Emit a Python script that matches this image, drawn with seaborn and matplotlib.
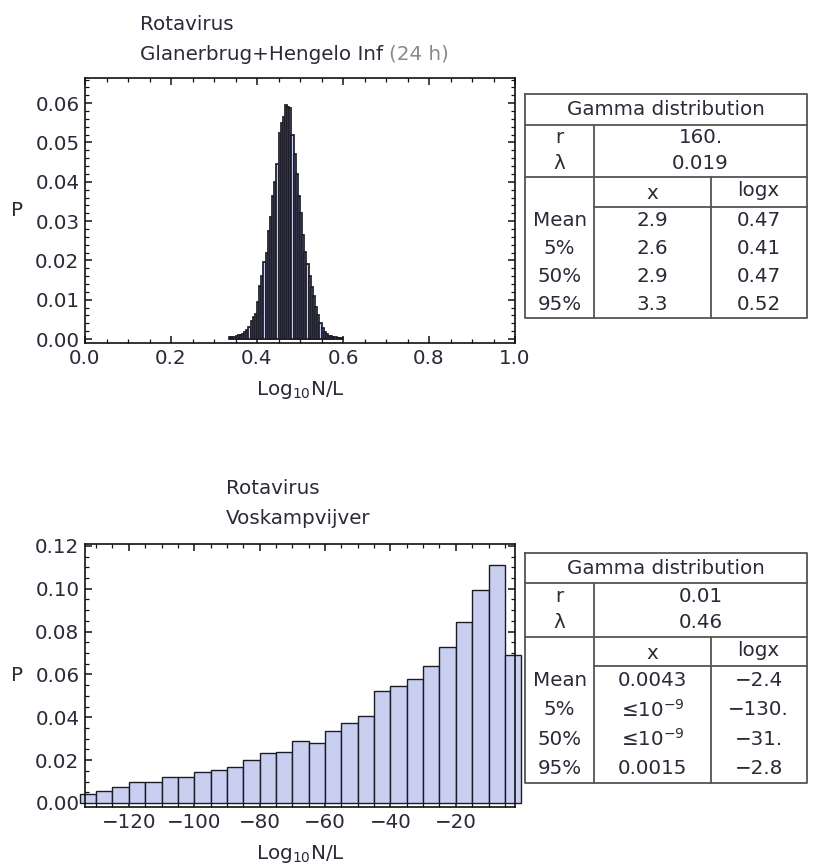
import numpy as np
import pandas as pd
import matplotlib
matplotlib.use("Agg")
import matplotlib.pyplot as plt
import seaborn as sns
from matplotlib.ticker import MultipleLocator, FuncFormatter

# ---------------- data ----------------
top_title = ["Rotavirus", "Glanerbrug+Hengelo Inf", "(24 h)"]
top_bin_start = 0.335
top_bin_width = 0.005
top_p = [0.0004, 0.0004, 0.0005, 0.0007, 0.0010, 0.0011, 0.0013, 0.0018, 0.0024, 0.0030,
         0.0045, 0.0055, 0.0065, 0.0095, 0.0135, 0.0160, 0.0195, 0.0218, 0.0275, 0.0310,
         0.0365, 0.0400, 0.0445, 0.0525, 0.0550, 0.0565, 0.0595, 0.0590, 0.0588, 0.0520,
         0.0470, 0.0420, 0.0365, 0.0320, 0.0265, 0.0222, 0.0190, 0.0160, 0.0132, 0.0110,
         0.0082, 0.0060, 0.0042, 0.0027, 0.0019, 0.0013, 0.0009, 0.0007, 0.0005, 0.0004,
         0.0003, 0.0002, 0.0002]
top_xticks = [0.0, 0.2, 0.4, 0.6, 0.8, 1.0]
top_yticks = [0.00, 0.01, 0.02, 0.03, 0.04, 0.05, 0.06]
top_params = ["160.", "0.019"]
top_rows = ["Mean", "5%", "50%", "95%"]
top_x = ["2.9", "2.6", "2.9", "3.3"]
top_logx = ["0.47", "0.41", "0.47", "0.52"]

bot_title = ["Rotavirus", "Voskampvijver"]
bot_bin_start = -135
bot_bin_width = 5
bot_p = [0.0041, 0.0057, 0.0073, 0.0097, 0.0097, 0.0119, 0.0119, 0.0144, 0.0152, 0.0168,
         0.0200, 0.0231, 0.0239, 0.0287, 0.0279, 0.0334, 0.0372, 0.0405, 0.0523, 0.0546,
         0.0580, 0.0641, 0.0728, 0.0847, 0.0994, 0.1113, 0.0689]
bot_xticks = [-120, -100, -80, -60, -40, -20]
bot_yticks = [0.00, 0.02, 0.04, 0.06, 0.08, 0.10, 0.12]
bot_params = ["0.01", "0.46"]
bot_rows = ["Mean", "5%", "50%", "95%"]
bot_x = ["0.0043", "≤10$^{-9}$", "≤10$^{-9}$", "0.0015"]
bot_logx = ["\u22122.4", "\u2212130.", "\u221231.", "\u22122.8"]

# ---------------- style ----------------
sns.set_style("ticks")
plt.rcParams["font.family"] = ["DejaVu Sans"]
plt.rcParams["mathtext.fontset"] = "dejavusans"
FS = 14.3
TXT = "#2e2838"
FILL = "#c9cff1"
EDGE = "#1c1c28"

W, H = 814, 866
fig = plt.figure(figsize=(W / 100, H / 100), dpi=100)


def rect(left, top, right, bottom):
    return [left / W, 1 - bottom / H, (right - left) / W, (bottom - top) / H]


def style_axes(ax, xmaj, xmin, ymaj, ymin, xfmt, yfmt):
    for s in ax.spines.values():
        s.set_visible(True)
        s.set_linewidth(1.2)
        s.set_color("#111111")
    ax.xaxis.set_major_locator(xmaj)
    ax.xaxis.set_minor_locator(xmin)
    ax.yaxis.set_major_locator(ymaj)
    ax.yaxis.set_minor_locator(ymin)
    ax.xaxis.set_major_formatter(FuncFormatter(xfmt))
    ax.yaxis.set_major_formatter(FuncFormatter(yfmt))
    ax.tick_params(which="both", direction="in", top=True, right=True,
                   colors="#111111", labelcolor=TXT, labelsize=FS)
    ax.tick_params(which="major", length=5, width=1.1, pad=4)
    ax.tick_params(which="minor", length=2.8, width=0.9)
    ax.set_ylabel("P", rotation=0, fontsize=FS, color=TXT, va="center", ha="center")
    ax.set_xlabel("Log$_{10}$N/L", fontsize=FS, color=TXT)
    ax.yaxis.set_label_coords(-0.158, 0.5)
    ax.xaxis.labelpad = 8


# ---- top histogram ----
ax1 = fig.add_axes(rect(85, 78, 515, 343))
n1 = len(top_p)
centers1 = [top_bin_start + top_bin_width * (i + 0.5) for i in range(n1)]
df1 = pd.DataFrame({"x": centers1, "p": top_p})
sns.histplot(data=df1, x="x", weights="p", bins=n1,
             binrange=(top_bin_start, top_bin_start + top_bin_width * n1),
             stat="count", ax=ax1, color=FILL, edgecolor=EDGE, linewidth=1.25, alpha=1)
ax1.set_xlim(0, 1.0)
ax1.set_ylim(-0.001, 0.0664)
style_axes(ax1, MultipleLocator(0.2), MultipleLocator(0.05),
           MultipleLocator(0.01), MultipleLocator(0.002),
           lambda v, p: f"{v:.1f}", lambda v, p: f"{v:.2f}")

# ---- bottom histogram ----
ax2 = fig.add_axes(rect(85, 544, 515, 807))
n2 = len(bot_p)
centers2 = [bot_bin_start + bot_bin_width * (i + 0.5) for i in range(n2)]
df2 = pd.DataFrame({"x": centers2, "p": bot_p})
sns.histplot(data=df2, x="x", weights="p", bins=n2,
             binrange=(bot_bin_start, bot_bin_start + bot_bin_width * n2),
             stat="count", ax=ax2, color=FILL, edgecolor=EDGE, linewidth=1.0, alpha=1)
for p in ax2.patches:
    p.set_clip_on(False)
ax2.set_xlim(-133.4, -1.9)
ax2.set_ylim(-0.0019, 0.1209)
style_axes(ax2, MultipleLocator(20), MultipleLocator(5),
           MultipleLocator(0.02), MultipleLocator(0.005),
           lambda v, p: f"{int(round(v))}".replace("-", "\u2212"), lambda v, p: f"{v:.2f}")

# ---- overlay in pixel coordinates for titles and tables ----
ov = fig.add_axes([0, 0, 1, 1])
ov.set_xlim(0, W)
ov.set_ylim(H, 0)
ov.axis("off")
ov.patch.set_alpha(0)

ov.text(140, 25, top_title[0], fontsize=FS, color=TXT, ha="left", va="center")
t2 = ov.text(140, 54, top_title[1], fontsize=FS, color=TXT, ha="left", va="center")
ov.annotate(top_title[2], xy=(1, 0), xycoords=t2, xytext=(4.5, 0),
            textcoords="offset points", fontsize=FS, color="#8a8a8a",
            ha="left", va="bottom")
for i, t in enumerate(bot_title):
    ov.text(226, 489 + 29 * i, t, fontsize=FS, color=TXT, ha="left", va="center")

LC = "#555555"
LW = 1.3


def draw_table(top, hdr, par_end, colhdr, bottom, params, rows, xs, logxs,
               left=525, right=806.7, c1=594.3, c2=710.5):
    kw = dict(color=LC, lw=LW, solid_capstyle="projecting")
    ov.plot([left, right, right, left, left], [top, top, bottom, bottom, top], **kw)
    ov.plot([left, right], [hdr, hdr], **kw)
    ov.plot([left, right], [par_end, par_end], **kw)
    ov.plot([c1, right], [colhdr, colhdr], **kw)
    ov.plot([c1, c1], [hdr, bottom], **kw)
    ov.plot([c2, c2], [par_end, bottom], **kw)
    tk = dict(fontsize=FS, color=TXT, ha="center", va="center")
    ov.text((left + right) / 2, (top + hdr) / 2, "Gamma distribution", **tk)
    pm = (hdr + par_end) / 2
    ov.text((left + c1) / 2, pm - 13, "r", **tk)
    ov.text((left + c1) / 2, pm + 13, "λ", **tk)
    ov.text((c1 + right) / 2, pm - 13, params[0], **tk)
    ov.text((c1 + right) / 2, pm + 13, params[1], **tk)
    ov.text((c1 + c2) / 2, (par_end + colhdr) / 2 + 2, "x", **tk)
    ov.text((c2 + right) / 2, (par_end + colhdr) / 2 - 1, "logx", **tk)
    step = (bottom - colhdr) / len(rows)
    for i, (r, xv, lv) in enumerate(zip(rows, xs, logxs)):
        y = colhdr + step * (i + 0.5)
        ov.text((left + c1) / 2, y, r, **tk)
        ov.text((c1 + c2) / 2, y, xv, **tk)
        ov.text((c2 + right) / 2, y, lv, **tk)


draw_table(94, 125, 176.7, 206.7, 318, top_params, top_rows, top_x, top_logx)
draw_table(553.3, 582.7, 636.7, 666, 783.3, bot_params, bot_rows, bot_x, bot_logx)

fig.savefig("out.png", dpi=100, facecolor="white")
